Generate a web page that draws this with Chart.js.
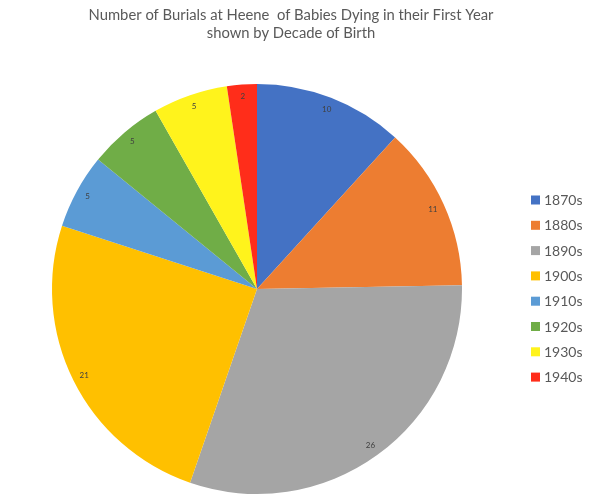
<!DOCTYPE html>
<html>
<head>
<meta charset="utf-8">
<script src="https://cdn.jsdelivr.net/npm/chart.js@4"></script>
<style>
  html, body { margin: 0; padding: 0; background: #fff; }
  #chart { display: block; }
</style>
</head>
<body>
<canvas id="chart" width="589" height="504"></canvas>
<script>
// data
const decades = ['1870s', '1880s', '1890s', '1900s', '1910s', '1920s', '1930s', '1940s'];
const burials = [10, 11, 26, 21, 5, 5, 5, 2];
const sliceColors = ['#4472C4', '#ED7D31', '#A5A5A5', '#FFC000', '#5B9BD5', '#70AD47', '#FFF31C', '#FF2D1A'];
const titleLines = ['Number of Burials at Heene  of Babies Dying in their First Year', 'shown by Decade of Birth'];

const FONT = 'Lato, "Open Sans", sans-serif';

// title, slice labels and legend drawn by hand so the pie keeps its place
const extras = {
    id: 'extras',
    afterDatasetsDraw(chart) {
        const ctx = chart.ctx;
        ctx.save();

        // values near the rim of each slice
        const meta = chart.getDatasetMeta(0);
        ctx.font = '8px ' + FONT;
        ctx.fillStyle = '#404040';
        ctx.textAlign = 'center';
        ctx.textBaseline = 'middle';
        meta.data.forEach((arc, i) => {
            const mid = (arc.startAngle + arc.endAngle) / 2;
            const d = arc.outerRadius - 12;
            ctx.fillText(String(burials[i]), arc.x + Math.cos(mid) * d, arc.y + Math.sin(mid) * d);
        });

        // title
        ctx.font = '14.8px ' + FONT;
        ctx.fillStyle = '#595959';
        titleLines.forEach((t, i) => ctx.fillText(t, 291, 15 + i * 18.5));

        // legend
        ctx.font = '14px ' + FONT;
        ctx.textAlign = 'left';
        decades.forEach((d, i) => {
            const y = 200 + i * 25.3;
            ctx.fillStyle = sliceColors[i];
            ctx.fillRect(531, y - 4.5, 9, 9);
            ctx.fillStyle = '#595959';
            ctx.fillText(d, 544, y + 0.5);
        });
        ctx.restore();
    }
};

new Chart(document.getElementById('chart'), {
    type: 'pie',
    data: {
        labels: decades,
        datasets: [{
            data: burials,
            backgroundColor: sliceColors,
            borderWidth: 0
        }]
    },
    options: {
        responsive: false,
        animation: false,
        layout: { padding: { left: 52, right: 127, top: 84, bottom: 10 } },
        plugins: {
            legend: { display: false },
            title: { display: false },
            tooltip: { enabled: false }
        }
    },
    plugins: [extras]
});
</script>
</body>
</html>
